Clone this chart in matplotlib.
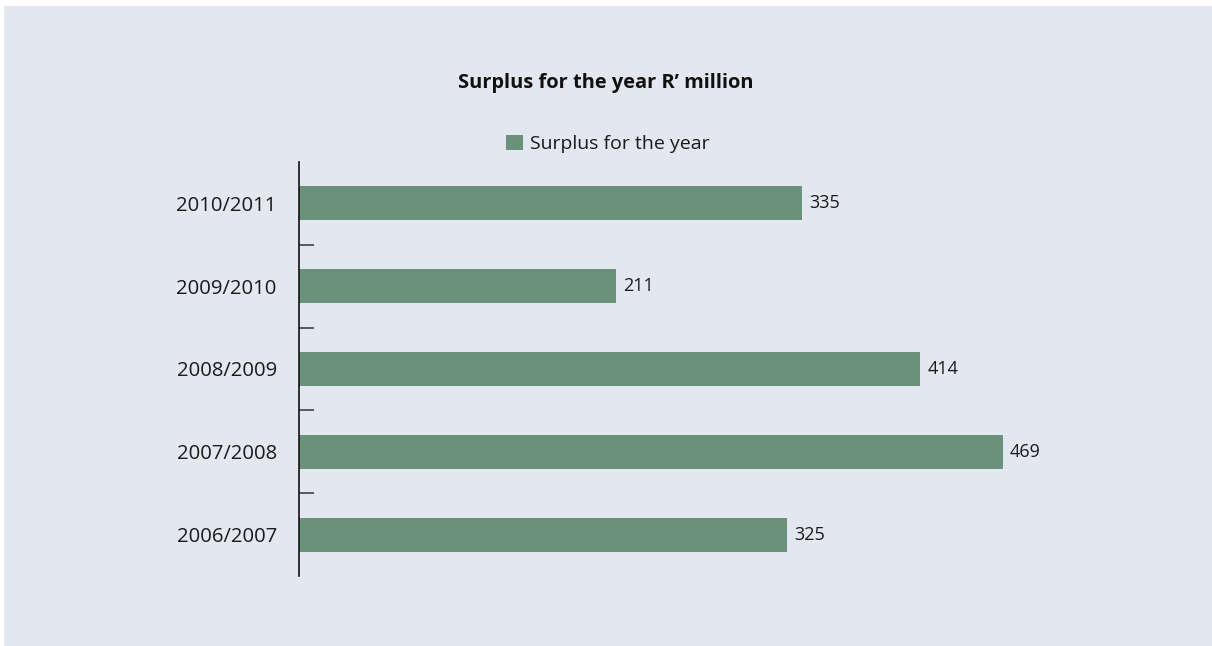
import matplotlib.pyplot as plt
from matplotlib.patches import Rectangle

years = ["2006/2007", "2007/2008", "2008/2009", "2009/2010", "2010/2011"]
surplus = [325, 469, 414, 211, 335]

plt.rcParams['font.family'] = ['Open Sans', 'DejaVu Sans']

bg = "#e3e7f0"
bar_color = "#6b917a"

fig = plt.figure(figsize=(12.12, 6.46), dpi=100, facecolor="white")
# light panel behind the chart, leaving a thin white edge top and left
fig.patches.append(Rectangle((4 / 1212, -0.1), 2, 1.1 - 6 / 646, transform=fig.transFigure,
                             facecolor=bg, edgecolor="none", zorder=-10))

ax = fig.add_axes([299 / 1212, 70 / 646, 801 / 1212, 414 / 646])
ax.set_facecolor("none")

bars = ax.barh(range(len(years)), surplus, height=0.41, color=bar_color,
               label="Surplus for the year")
ax.bar_label(bars, labels=[str(v) for v in surplus], padding=5, fontsize=13, color="#1a1a1a")

ax.set_ylim(-0.5, len(years) - 0.5)
ax.set_xlim(0, 533.6)
ax.set_yticks(range(len(years)))
ax.set_yticklabels(years, fontsize=14.6, color="#1a1a1a")
ax.set_yticks([i + 0.5 for i in range(len(years) - 1)], minor=True)
ax.tick_params(axis="y", which="major", length=0, pad=16)
ax.tick_params(axis="y", which="minor", direction="in", length=11, width=1.1, color="#333333")
ax.set_xticks([])

for side in ["top", "right", "bottom"]:
    ax.spines[side].set_visible(False)
ax.spines["left"].set_linewidth(1.2)
ax.spines["left"].set_color("#111111")

fig.text(0.5, 1 - 83 / 646, "Surplus for the year R\u2019 million", ha="center", va="center",
         fontsize=14.4, fontweight="bold", color="#111111")

ax.legend(loc="center", bbox_to_anchor=(608 / 1212, 1 - 144 / 646), bbox_transform=fig.transFigure,
          frameon=False, fontsize=14, handlelength=0.85, handleheight=0.85, handletextpad=0.4,
          labelcolor="#1a1a1a")

fig.savefig("out.png", dpi=100, facecolor=fig.get_facecolor())
